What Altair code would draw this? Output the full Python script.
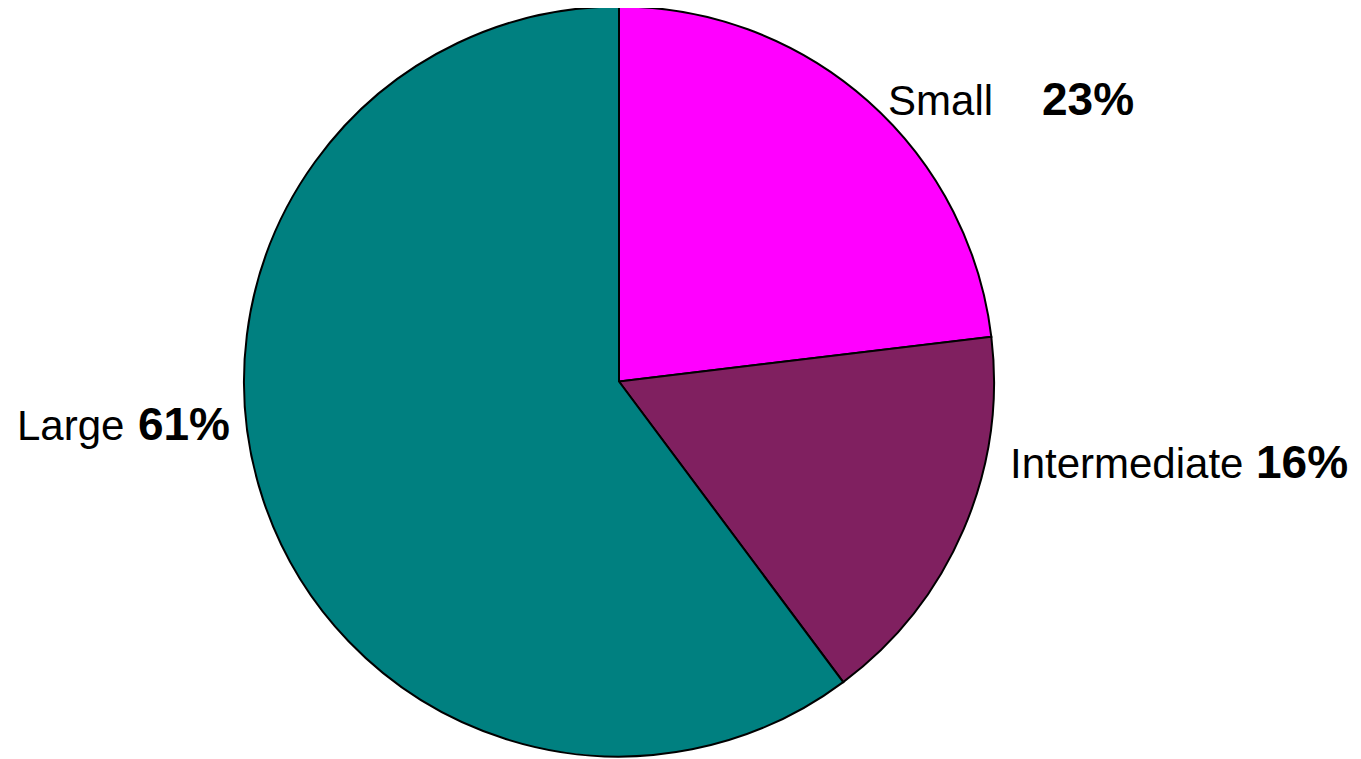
import altair as alt
import pandas as pd

categories = ["Small", "Intermediate", "Large"]
shares = [23.1, 16.7, 60.2]
pct_labels = ["23%", "16%", "61%"]
slice_order = [0, 1, 2]
colors = ["#FF00FF", "#802060", "#008080"]

df = pd.DataFrame({
    "category": categories,
    "share": shares,
    "pct": pct_labels,
    "order": slice_order,
})

CX, CY = 611, 373.5
theta_scale = alt.Scale(domain=[0, 100])

base = alt.Chart(df)

pie = base.mark_arc(stroke="black", strokeWidth=2, radius=375).encode(
    theta=alt.Theta("share:Q", stack=True, scale=theta_scale),
    color=alt.Color("category:N", scale=alt.Scale(domain=categories, range=colors), legend=None),
    order=alt.Order("order:Q"),
    x=alt.value(CX),
    y=alt.value(CY),
)


def lab(cat, field, dx, dy, align, weight, size):
    return (
        base.transform_window(cum="sum(share)", sort=[alt.SortField("order")], frame=[None, 0])
        .transform_calculate(mid="datum.cum - datum.share / 2")
        .transform_filter(alt.datum.category == cat)
        .mark_text(radius=420, align=align, baseline="alphabetic", dx=dx, dy=dy,
                   font="Liberation Sans", fontSize=size, fontWeight=weight, color="black")
        .encode(
            theta=alt.Theta("mid:Q", stack=False, scale=theta_scale),
            text=alt.Text(field),
            x=alt.value(CX),
            y=alt.value(CY),
        )
    )


layers = [
    pie,
    lab("Small", "category:N", -9.7, 47.7, "left", "normal", 42),
    lab("Small", "pct:N", 144.3, 47.7, "left", "bold", 46),
    lab("Intermediate", "category:N", 5, -69, "left", "normal", 42),
    lab("Intermediate", "pct:N", 251, -69, "left", "bold", 46),
    lab("Large", "category:N", -96, -73.8, "right", "normal", 42),
    lab("Large", "pct:N", 9.6, -73.8, "right", "bold", 46),
]

chart = alt.layer(*layers).properties(
    width=1345, height=751, autosize=alt.AutoSizeParams(type="none"), padding=0,
    background="white",
).configure_view(stroke=None)

chart.save("out.html", embed_options={"renderer": "svg", "actions": False})
